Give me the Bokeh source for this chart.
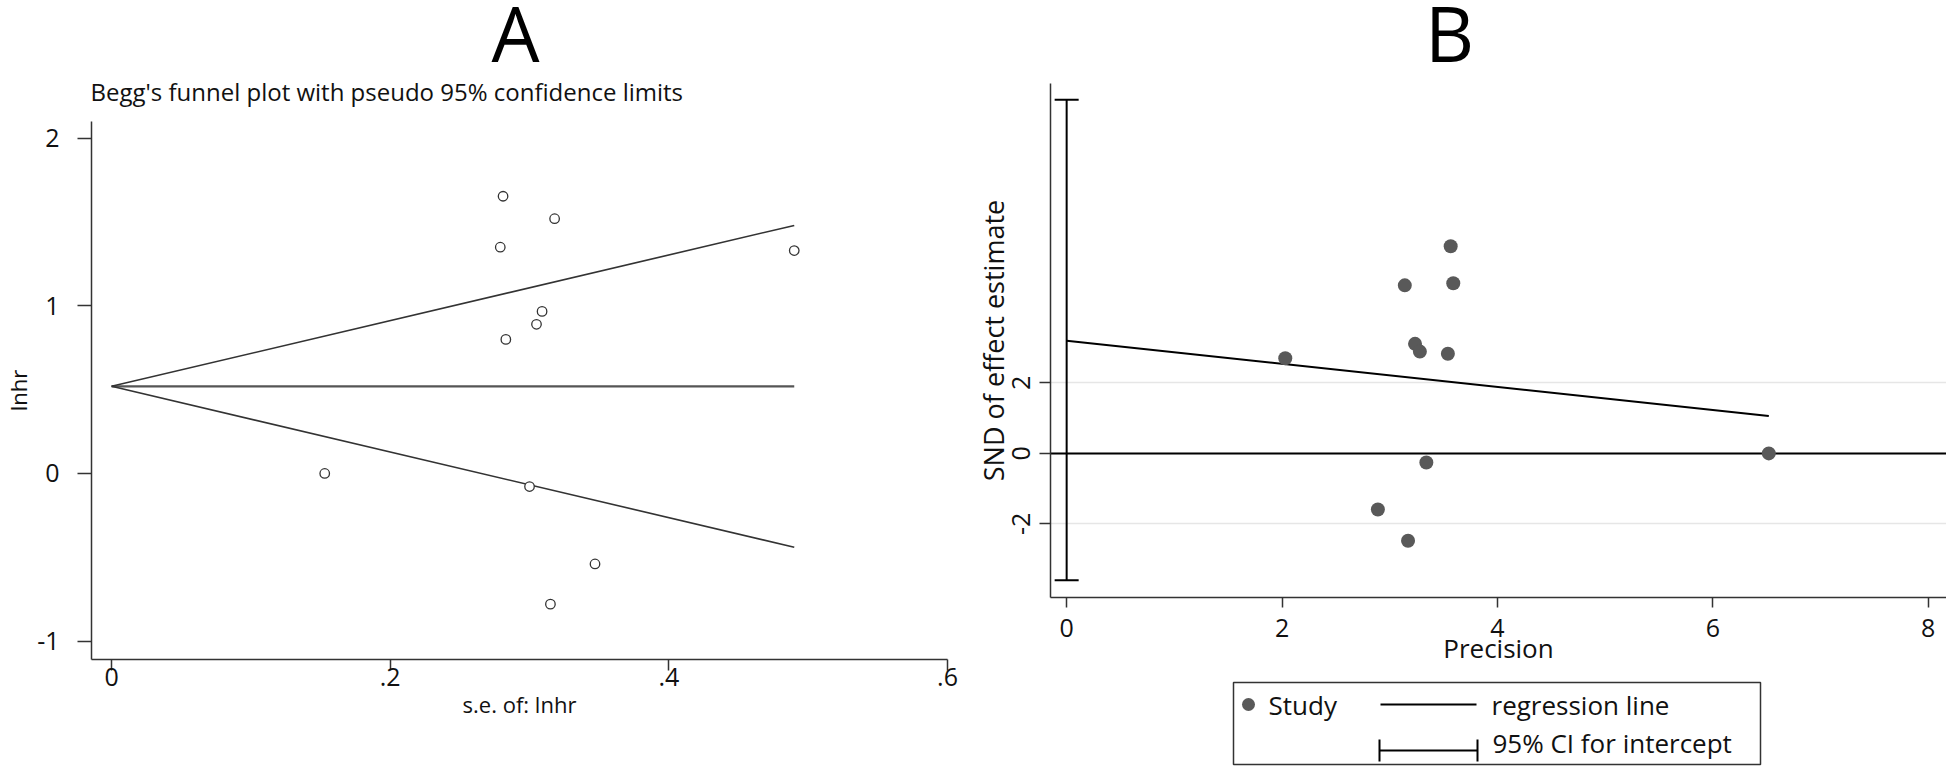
from bokeh.plotting import figure
from bokeh.models import Range1d, FixedTicker, Span, Whisker, TeeHead, ColumnDataSource
from bokeh.layouts import row, column
from bokeh.embed import file_html
from bokeh.resources import INLINE
from bokeh.core.properties import value

FONT = "Open Sans"

# ---------------- data: panel A (Begg's funnel plot) ----------------
se_lnhr = [0.281, 0.318, 0.279, 0.490, 0.309, 0.305, 0.283, 0.153, 0.300, 0.347, 0.315]
lnhr = [1.654, 1.52, 1.35, 1.33, 0.967, 0.89, 0.80, 0.0, -0.078, -0.54, -0.78]
funnel_se = [0.0, 0.49]
funnel_upper = [0.52, 1.48]
funnel_lower = [0.52, -0.44]
pooled_lnhr = [0.52, 0.52]
a_x_ticks = [0, 0.2, 0.4, 0.6]
a_x_labels = ["0", ".2", ".4", ".6"]
a_y_ticks = [-1, 0, 1, 2]
a_y_labels = ["-1", "0", "1", "2"]

# ---------------- data: panel B (Egger's regression) ----------------
precision = [3.566, 3.14, 3.59, 2.03, 3.235, 3.28, 3.54, 6.52, 3.34, 2.89, 3.17]
snd = [5.88, 4.77, 4.83, 2.70, 3.11, 2.89, 2.83, 0.0, -0.26, -1.59, -2.48]
reg_precision = [0.0, 6.52]
reg_snd = [3.2, 1.06]
ci_x = [0.0]
ci_low = [-3.6]
ci_high = [10.04]
b_x_ticks = [0, 2, 4, 6, 8]
b_x_labels = ["0", "2", "4", "6", "8"]
b_y_ticks = [-2, 0, 2]
b_y_labels = ["-2", "0", "2"]
legend_labels = ["Study", "regression line", "95% CI for intercept"]

AX = "#333333"
TXT = "#111111"


def style_axis(ax, ticks, labels, label_size, tick_out, standoff, axis_label_size, axis_standoff):
    ax.ticker = FixedTicker(ticks=ticks)
    ax.major_label_overrides = {t: s for t, s in zip(ticks, labels)}
    ax.axis_line_color = AX
    ax.axis_line_width = 1.5
    ax.major_tick_line_color = AX
    ax.major_tick_line_width = 1.5
    ax.major_tick_out = tick_out
    ax.major_tick_in = 0
    ax.minor_tick_line_color = None
    ax.major_label_text_font = FONT
    ax.major_label_text_font_size = label_size
    ax.major_label_text_color = TXT
    ax.major_label_standoff = standoff
    ax.axis_label_text_font = FONT
    ax.axis_label_text_font_size = axis_label_size
    ax.axis_label_text_font_style = "normal"
    ax.axis_label_text_color = TXT
    ax.axis_label_standoff = axis_standoff


def strip(width, height, left, right, xr, yr):
    s = figure(width=width, height=height, x_range=Range1d(0, xr), y_range=Range1d(0, yr),
               output_backend="svg", toolbar_location=None, x_axis_type=None, y_axis_type=None,
               min_border_left=left, min_border_right=right, min_border_top=0, min_border_bottom=0)
    s.grid.visible = False
    s.outline_line_color = None
    return s


# ---------------- panel A ----------------
A_W, A_LEFT, A_RIGHT = 960, 91, 13
tA = strip(A_W, 121, A_LEFT, A_RIGHT, A_W - A_LEFT - A_RIGHT, 121)
tA.text(x=[424], y=[89], text=["A"], text_font=value(FONT), text_font_size=value("76px"),
        text_align="center", text_baseline="alphabetic", text_color="black")
tA.text(x=[-1], y=[29.9], text=["Begg's funnel plot with pseudo 95% confidence limits"],
        text_font=value(FONT), text_font_size=value("24px"),
        text_align="left", text_baseline="alphabetic", text_color=TXT)

pA = figure(width=A_W, height=646,
            x_range=Range1d(-0.0144, 0.6), y_range=Range1d(-1.11, 2.10),
            output_backend="svg", toolbar_location=None,
            min_border_left=A_LEFT, min_border_right=A_RIGHT, min_border_top=0, min_border_bottom=108,
            x_axis_label="s.e. of: lnhr", y_axis_label="lnhr")
pA.outline_line_color = None
pA.grid.visible = False
style_axis(pA.xaxis[0], a_x_ticks, a_x_labels, "25px", 11, -3, "22px", 0)
style_axis(pA.yaxis[0], a_y_ticks, a_y_labels, "25px", 14, 18, "22px", 1)
pA.yaxis[0].major_label_orientation = "horizontal"

pA.line(funnel_se, pooled_lnhr, line_color="#555555", line_width=2.2)
pA.line(funnel_se, funnel_upper, line_color=AX, line_width=1.6)
pA.line(funnel_se, funnel_lower, line_color=AX, line_width=1.6)
pA.scatter(se_lnhr, lnhr, marker="circle", size=9.5, fill_color="white",
           line_color=AX, line_width=1.3)

# ---------------- panel B ----------------
B_W, B_LEFT, B_RIGHT = 986, 90, 0
tB = strip(B_W, 83, B_LEFT, B_RIGHT, B_W - B_LEFT - B_RIGHT, 83)
tB.text(x=[399], y=[51], text=["B"], text_font=value(FONT), text_font_size=value("76px"),
        text_align="center", text_baseline="alphabetic", text_color="black")

pB = figure(width=B_W, height=593,
            x_range=Range1d(-0.15, 8.17), y_range=Range1d(-4.09, 10.5),
            output_backend="svg", toolbar_location=None,
            min_border_left=B_LEFT, min_border_right=B_RIGHT, min_border_top=0, min_border_bottom=79,
            x_axis_label="Precision", y_axis_label="SND of effect estimate")
pB.outline_line_color = None
pB.xgrid.visible = False
pB.ygrid.ticker = FixedTicker(ticks=b_y_ticks)
pB.ygrid.grid_line_color = "#e6e6e6"
pB.ygrid.grid_line_width = 1.5
style_axis(pB.xaxis[0], b_x_ticks, b_x_labels, "25px", 10, 11, "26px", -10)
style_axis(pB.yaxis[0], b_y_ticks, b_y_labels, "25px", 11, 9, "27px", -2)
pB.yaxis[0].major_label_orientation = "vertical"

pB.add_layout(Span(location=0, dimension="width", line_color="black", line_width=2,
                   level="underlay"))
ci_src = ColumnDataSource(dict(x=ci_x, lower=ci_low, upper=ci_high))
pB.add_layout(Whisker(source=ci_src, base="x", lower="lower", upper="upper", dimension="height",
                      line_color="black", line_width=2, level="underlay",
                      upper_head=TeeHead(size=24, line_width=2, line_color="black"),
                      lower_head=TeeHead(size=24, line_width=2, line_color="black")))
pB.line(reg_precision, reg_snd, line_color="black", line_width=2)
pB.scatter(precision, snd, marker="circle", size=14, fill_color="#595959", line_color=None)

# ---------------- legend for panel B (drawn in its own strip) ----------------
pL = strip(B_W, 91, B_LEFT, B_RIGHT, B_W - B_LEFT - B_RIGHT, 91)
box_l, box_r, box_t, box_b = 183, 710, 85, 3
pL.quad(left=[box_l], right=[box_r], top=[box_t], bottom=[box_b],
        fill_color=None, line_color="#333333", line_width=1.5)
row1, row2 = 63, 17
pL.scatter([box_l + 15], [row1], marker="circle", size=13, fill_color="#595959", line_color=None)
pL.segment(x0=[box_l + 147], y0=[row1], x1=[box_l + 243], y1=[row1], line_color="black", line_width=2)
pL.segment(x0=[box_l + 146, box_l + 146, box_l + 244], y0=[row2, row2 - 11, row2 - 11],
           x1=[box_l + 244, box_l + 146, box_l + 244], y1=[row2, row2 + 11, row2 + 11],
           line_color="black", line_width=2)
pL.text(x=[box_l + 35, box_l + 258, box_l + 259], y=[62.6, 62.6, 24.9],
        text=legend_labels, text_font=value(FONT), text_font_size=value("26px"),
        text_color=TXT, text_baseline="alphabetic", text_align="left")

layout = row(column(tA, pA), column(tB, pB, pL))
open("out.html", "w").write(file_html(layout, INLINE))
